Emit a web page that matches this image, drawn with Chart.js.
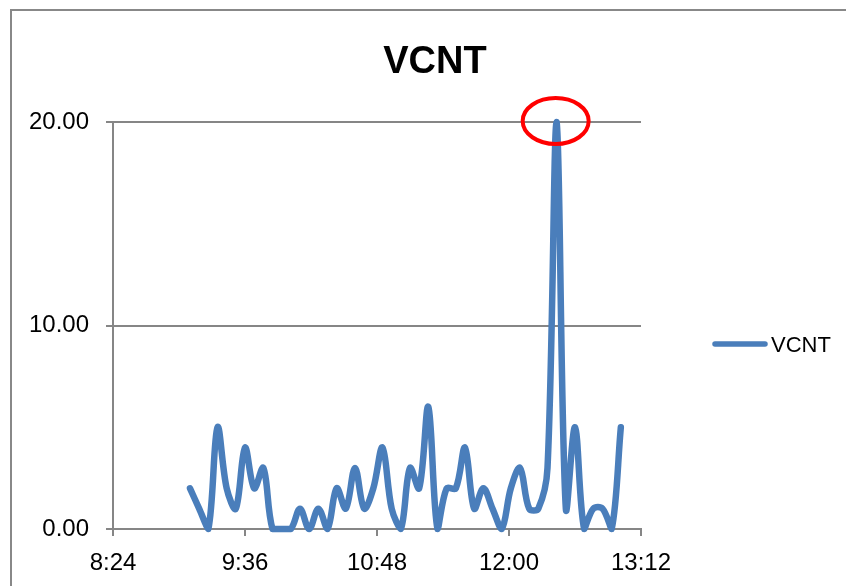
<!DOCTYPE html>
<html>
<head>
<meta charset="utf-8">
<script src="https://cdn.jsdelivr.net/npm/chart.js@4.4.1/dist/chart.umd.min.js"></script>
<style>
  html, body { margin: 0; padding: 0; background: #fff; overflow: hidden; }
  #marco { position: absolute; left: 10px; top: 9px; width: 900px; height: 700px; border: 2px solid #888; }
  #wrap { position: absolute; left: 0; top: 0; width: 846px; height: 586px; }
</style>
</head>
<body>
<div id="marco"></div>
<div id="wrap"><canvas id="grafico" width="846" height="586"></canvas></div>
<script>
// datos
const TITULO = "VCNT";
const serie = "VCNT";
const horas = [
  "9:06", "9:11", "9:16", "9:21", "9:26", "9:31", "9:36", "9:41", "9:46", "9:51", "9:56",
  "10:01", "10:06", "10:11", "10:16", "10:21", "10:26", "10:31", "10:36", "10:41", "10:46", "10:51", "10:56",
  "11:01", "11:06", "11:11", "11:16", "11:21", "11:26", "11:31", "11:36", "11:41", "11:46", "11:51", "11:56",
  "12:01", "12:06", "12:11", "12:16", "12:21", "12:26", "12:31", "12:36", "12:41", "12:46", "12:51", "12:56",
  "13:01"
];
const valores = [
  2, 1, 0, 5, 2, 1, 4, 2, 3, 0, 0,
  0, 1, 0, 1, 0, 2, 1, 3, 1, 2, 4, 1,
  0, 3, 2, 6, 0, 2, 2, 4, 1, 2, 1, 0,
  2, 3, 1, 1, 3, 20, 1, 5, 0, 1, 1, 0,
  5
];
// eje x: 8:24 a 13:12 cada 1:12
const ejeXMin = "8:24";
const ejeXMax = "13:12";
const pasoX = "1:12";
const ejeYMax = 20;
const pasoY = 10;

const AZUL = "#4a7ebb";
const GRIS = "#868686";
const FUENTE = '"Liberation Sans", Arial, sans-serif';

function aMinutos(h) {
  const [hh, mm] = h.split(":").map(Number);
  return hh * 60 + mm;
}
function aHora(m) {
  const hh = Math.floor(m / 60);
  const mm = Math.round(m % 60);
  return hh + ":" + String(mm).padStart(2, "0");
}

// titulo, leyenda y elipse roja sobre el maximo
const decoracion = {
  id: "decoracion",
  afterDraw(chart) {
    const ctx = chart.ctx;
    const sx = chart.scales.x, sy = chart.scales.y;
    ctx.save();
    ctx.fillStyle = "#000";
    ctx.font = "bold 38px " + FUENTE;
    ctx.textAlign = "center";
    ctx.textBaseline = "alphabetic";
    ctx.fillText(TITULO, 435, 73);

    // leyenda
    ctx.strokeStyle = AZUL;
    ctx.lineWidth = 5.5;
    ctx.lineCap = "round";
    ctx.beginPath();
    ctx.moveTo(715, 344);
    ctx.lineTo(765, 344);
    ctx.stroke();
    ctx.font = "22px " + FUENTE;
    ctx.textAlign = "left";
    ctx.fillText(serie, 771, 352);

    // marca del pico
    const iMax = valores.indexOf(Math.max(...valores));
    const cx = sx.getPixelForValue(aMinutos(horas[iMax]));
    const cy = sy.getPixelForValue(valores[iMax]);
    ctx.strokeStyle = "#ff0000";
    ctx.lineWidth = 4;
    ctx.beginPath();
    ctx.ellipse(cx - 1, cy - 1, 33, 23, 0, 0, Math.PI * 2);
    ctx.stroke();
    ctx.restore();
  }
};

new Chart(document.getElementById("grafico"), {
  type: "line",
  data: {
    datasets: [{
      label: serie,
      data: horas.map((h, i) => ({ x: aMinutos(h), y: valores[i] })),
      borderColor: AZUL,
      borderWidth: 6.5,
      borderCapStyle: "round",
      borderJoinStyle: "round",
      pointRadius: 0,
      tension: 0.35,
      clip: false
    }]
  },
  options: {
    responsive: false,
    animation: false,
    layout: { padding: { left: 0, top: 122, right: 205, bottom: 0 } },
    plugins: {
      legend: { display: false },
      title: { display: false },
      tooltip: { enabled: false }
    },
    scales: {
      x: {
        type: "linear",
        min: aMinutos(ejeXMin),
        max: aMinutos(ejeXMax),
        afterFit: s => { s.height = 57; },
        grid: { drawOnChartArea: false, drawTicks: true, tickLength: 7, color: GRIS, lineWidth: 2 },
        border: { display: true, color: GRIS, width: 2 },
        ticks: {
          stepSize: aMinutos(pasoX),
          padding: 13,
          maxRotation: 0,
          color: "#000",
          font: { family: FUENTE, size: 24 },
          callback: v => aHora(v)
        }
      },
      y: {
        min: 0,
        max: ejeYMax,
        afterFit: s => { s.width = 113; },
        grid: { drawOnChartArea: true, drawTicks: true, tickLength: 7, color: GRIS, lineWidth: 2 },
        border: { display: true, color: GRIS, width: 2 },
        ticks: {
          stepSize: pasoY,
          padding: 17,
          color: "#000",
          font: { family: FUENTE, size: 24 },
          callback: v => v.toFixed(2)
        }
      }
    }
  },
  plugins: [decoracion]
});
</script>
</body>
</html>
